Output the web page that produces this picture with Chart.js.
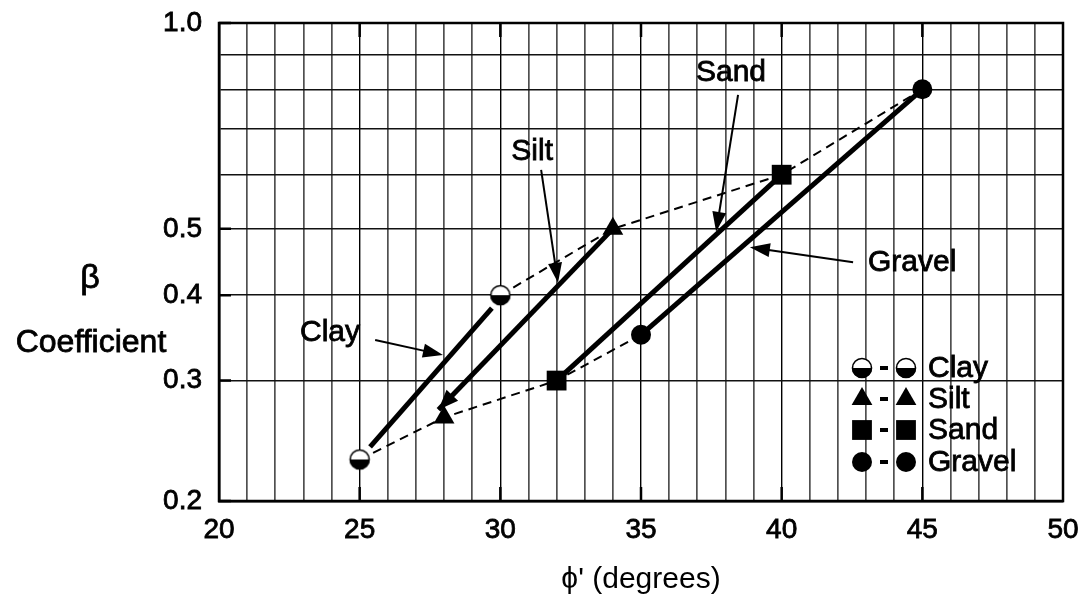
<!DOCTYPE html>
<html>
<head>
<meta charset="utf-8">
<script src="https://cdn.jsdelivr.net/npm/chart.js@4.4.0/dist/chart.umd.min.js"></script>
<style>
  html, body { margin: 0; padding: 0; background: #fff; }
</style>
</head>
<body>
<canvas id="chart" width="1085" height="594"></canvas>
<script>
const FONT = "'Liberation Sans', Arial, Helvetica, sans-serif"

// soil types, legend order
const soils = ['Clay', 'Silt', 'Sand', 'Gravel']

// ends of each soil band: friction angle phi' (deg) and beta
const lowPhi = [25, 28, 32, 35]
const lowBeta = [0.23, 0.265, 0.30, 0.35]
const highPhi = [30, 34, 40, 45]
const highBeta = [0.40, 0.50, 0.60, 0.80]

// heavy fitted lines (clay and silt ones do not quite reach the markers)
const fitStartPhi = [25.37, 27.8, 32, 35]
const fitStartBeta = [0.24, 0.272, 0.30, 0.35]
const fitEndPhi = [29.7, 34, 40, 45]
const fitEndBeta = [0.383, 0.50, 0.60, 0.80]

// axes
const xTickStep = 1
const xLabelEvery = 5
const yGridValues = [0.2, 0.3, 0.4, 0.5, 0.6, 0.7, 0.8, 0.9, 1.0]
const yTickLabels = [0.2, 0.3, 0.4, 0.5, 1.0]

// callout labels with arrows, placed in data coordinates
const callouts = [
  { text: 'Clay', at: [22.88, 0.352], align: 'left', from: [25.55, 0.344], to: [27.96, 0.327] },
  { text: 'Silt', at: [31.13, 0.648], align: 'center', from: [31.45, 0.610], to: [32.05, 0.417] },
  { text: 'Sand', at: [38.20, 0.845], align: 'center', from: [38.45, 0.785], to: [37.67, 0.495] },
  { text: 'Gravel', at: [43.07, 0.446], align: 'left', from: [42.54, 0.447], to: [38.87, 0.470] }
]

function halfCircle(r) {
  const c = document.createElement('canvas')
  const s = Math.ceil(r * 2 + 4)
  c.width = s
  c.height = s
  const g = c.getContext('2d')
  const m = s / 2
  g.fillStyle = '#fff'
  g.beginPath(); g.arc(m, m, r, 0, Math.PI * 2); g.fill()
  g.fillStyle = '#000'
  g.beginPath(); g.arc(m, m, r, 0, Math.PI); g.closePath(); g.fill()
  g.lineWidth = 1.6
  g.strokeStyle = '#000'
  g.beginPath(); g.arc(m, m, r - 0.5, 0, Math.PI * 2); g.stroke()
  return c
}

const clayMark = halfCircle(10)
const markerStyles = [clayMark, 'triangle', 'rect', 'circle']
const markerRadius = [10, 12, 14, 10]

function arrowHead(ctx, x0, y0, x1, y1, len, half) {
  const a = Math.atan2(y1 - y0, x1 - x0)
  ctx.beginPath()
  ctx.moveTo(x1, y1)
  ctx.lineTo(x1 - len * Math.cos(a) + half * Math.sin(a), y1 - len * Math.sin(a) - half * Math.cos(a))
  ctx.lineTo(x1 - len * Math.cos(a) - half * Math.sin(a), y1 - len * Math.sin(a) + half * Math.cos(a))
  ctx.closePath()
  ctx.fill()
}

// filled text with a thin outline so it reads as heavy as the scan
function heavyText(ctx, s, x, y) {
  ctx.fillText(s, x, y)
  ctx.lineWidth = 0.8
  ctx.strokeText(s, x, y)
}

const datasets = []

soils.forEach((name, i) => {
  datasets.push({
    label: name,
    data: [{ x: lowPhi[i], y: lowBeta[i] }, { x: highPhi[i], y: highBeta[i] }],
    showLine: false,
    pointStyle: markerStyles[i],
    pointRadius: markerRadius[i],
    pointHoverRadius: markerRadius[i],
    backgroundColor: '#000',
    borderColor: '#000',
    borderWidth: 0,
    order: 0
  })
})

soils.forEach((name, i) => {
  datasets.push({
    label: name + ' fit',
    data: [{ x: fitStartPhi[i], y: fitStartBeta[i] }, { x: fitEndPhi[i], y: fitEndBeta[i] }],
    showLine: true,
    borderColor: '#000',
    borderWidth: 5,
    pointRadius: 0,
    order: 1
  })
})

datasets.push({
  label: 'lower bound',
  data: lowPhi.map((x, i) => ({ x, y: lowBeta[i] })),
  showLine: true,
  borderColor: '#000',
  borderWidth: 2,
  borderDash: [9, 6],
  pointRadius: 0,
  order: 2
})
datasets.push({
  label: 'upper bound',
  data: highPhi.map((x, i) => ({ x, y: highBeta[i] })),
  showLine: true,
  borderColor: '#000',
  borderWidth: 2,
  borderDash: [9, 6],
  pointRadius: 0,
  order: 2
})

const decorations = {
  id: 'decorations',
  afterDatasetDraw(chart, args) {
    // arrow tip at the lower end of the silt line
    if (args.meta.label !== 'Silt fit') return
    const { ctx, scales: { x, y } } = chart
    ctx.save()
    ctx.fillStyle = '#000'
    arrowHead(ctx,
      x.getPixelForValue(fitEndPhi[1]), y.getPixelForValue(fitEndBeta[1]),
      x.getPixelForValue(fitStartPhi[1]), y.getPixelForValue(fitStartBeta[1]), 20, 8)
    ctx.restore()
  },
  afterDraw(chart) {
    const { ctx, chartArea: a, scales: { x, y } } = chart
    ctx.save()

    // frame
    ctx.strokeStyle = '#000'
    ctx.lineWidth = 2.5
    ctx.strokeRect(a.left, a.top, a.right - a.left, a.bottom - a.top)

    // short inner ticks
    ctx.lineWidth = 2.5
    ctx.beginPath()
    for (let v = 20 + xLabelEvery; v < 50; v += xLabelEvery) {
      const px = x.getPixelForValue(v)
      ctx.moveTo(px, a.bottom); ctx.lineTo(px, a.bottom - 14)
      ctx.moveTo(px, a.top); ctx.lineTo(px, a.top + 14)
    }
    yTickLabels.forEach(v => {
      const py = y.getPixelForValue(v)
      ctx.moveTo(a.left, py); ctx.lineTo(a.left + 12, py)
    })
    ctx.stroke()

    // y axis title, two pieces
    ctx.fillStyle = '#000'
    ctx.strokeStyle = '#000'
    ctx.textAlign = 'center'
    ctx.textBaseline = 'alphabetic'
    ctx.font = '34px ' + FONT
    heavyText(ctx, 'β', 90, 288)
    ctx.font = '32px ' + FONT
    heavyText(ctx, 'Coefficient', 91, 352)

    // callouts
    ctx.font = '30px ' + FONT
    ctx.textBaseline = 'middle'
    callouts.forEach(c => {
      ctx.textAlign = c.align
      heavyText(ctx, c.text, x.getPixelForValue(c.at[0]), y.getPixelForValue(c.at[1]))
      const x0 = x.getPixelForValue(c.from[0]), y0 = y.getPixelForValue(c.from[1])
      const x1 = x.getPixelForValue(c.to[0]), y1 = y.getPixelForValue(c.to[1])
      const ang = Math.atan2(y1 - y0, x1 - x0)
      ctx.lineWidth = 2
      ctx.beginPath()
      ctx.moveTo(x0, y0)
      ctx.lineTo(x1 - 12 * Math.cos(ang), y1 - 12 * Math.sin(ang))
      ctx.stroke()
      arrowHead(ctx, x0, y0, x1, y1, 20, 7)
    })

    // legend: marker - marker  name
    const lx1 = a.right - 201, lx2 = a.right - 157, tx = a.right - 135
    const rowY = [a.bottom - 133, a.bottom - 102, a.bottom - 71, a.bottom - 39]
    ctx.font = '30px ' + FONT
    ctx.textAlign = 'left'
    soils.forEach((name, i) => {
      const yy = rowY[i]
      const r = markerRadius[i]
      const opts = { pointStyle: markerStyles[i], radius: r, borderWidth: 0, rotation: 0 }
      ctx.fillStyle = '#000'
      Chart.helpers.drawPoint(ctx, opts, lx1, yy)
      Chart.helpers.drawPoint(ctx, opts, lx2, yy)
      ctx.fillRect(lx1 + 18, yy - 2, 8, 4)
      heavyText(ctx, name, tx, yy + 1)
    })

    ctx.restore()
  }
}

new Chart(document.getElementById('chart'), {
  type: 'scatter',
  data: { datasets },
  options: {
    responsive: false,
    animation: false,
    events: [],
    layout: { padding: { top: 23, right: 22, left: 0, bottom: 0 } },
    plugins: {
      legend: { display: false },
      tooltip: { enabled: false }
    },
    scales: {
      x: {
        type: 'linear',
        min: 20,
        max: 50,
        afterFit(scale) {
          scale.height = 93
          scale.paddingLeft = 0
          scale.paddingRight = 0
        },
        border: { display: true, color: '#000', width: 2.5 },
        grid: {
          drawTicks: false,
          color: (c) => (c.tick && c.tick.value % xLabelEvery === 0) ? '#000' : '#505050',
          lineWidth: (c) => (c.tick && c.tick.value % xLabelEvery === 0) ? 1.4 : 1.7
        },
        ticks: {
          stepSize: xTickStep,
          autoSkip: false,
          maxRotation: 0,
          padding: 12,
          color: '#000',
          textStrokeColor: '#000',
          textStrokeWidth: 0.8,
          font: { family: FONT, size: 28 },
          callback: (v) => v % xLabelEvery === 0 ? String(v) : ''
        },
        title: {
          display: true,
          text: 'ϕ\' (degrees)',
          color: '#000',
          font: { family: FONT, size: 30 },
          padding: { top: 0, bottom: -4 }
        }
      },
      y: {
        type: 'logarithmic',
        min: 0.2,
        max: 1.0,
        afterFit(scale) {
          scale.width = 219
          scale.paddingTop = 0
          scale.paddingBottom = 0
        },
        afterBuildTicks(scale) {
          scale.ticks = yGridValues.map(v => ({ value: v }))
        },
        border: { display: true, color: '#000', width: 2.5 },
        grid: { drawTicks: false, color: '#111', lineWidth: 1.5 },
        ticks: {
          autoSkip: false,
          padding: 17,
          color: '#000',
          textStrokeColor: '#000',
          textStrokeWidth: 0.8,
          font: { family: FONT, size: 28 },
          callback: (v) => yTickLabels.some(l => Math.abs(l - v) < 1e-9) ? Number(v).toFixed(1) : ''
        }
      }
    }
  },
  plugins: [decorations]
})
</script>
</body>
</html>
